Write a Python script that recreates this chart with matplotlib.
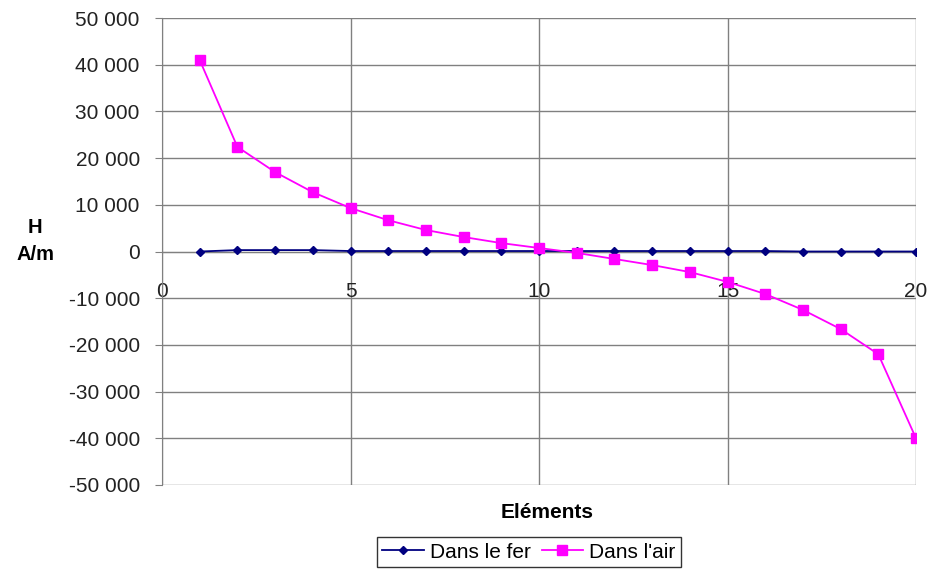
import matplotlib
matplotlib.use("Agg")
import matplotlib.pyplot as plt
from matplotlib.ticker import FuncFormatter

elements = list(range(1, 21))
h_fer = [0, 300, 300, 300, 100, 100, 100, 100, 100, 100,
         100, 100, 100, 100, 100, 100, 0, 0, 0, 0]
h_air = [41000, 22400, 17000, 12700, 9300, 6700, 4600, 3100, 1800, 750,
         -300, -1600, -2900, -4400, -6500, -9100, -12500, -16600, -22000, -40000]

plt.rcParams["font.family"] = ["Liberation Sans", "DejaVu Sans"]

fig = plt.figure(figsize=(9.3, 5.72), dpi=100)
ax = fig.add_axes([162 / 930, 1 - 485 / 572, (916 - 162) / 930, (485 - 18) / 572])

grid_c = "#808080"
ax.plot(elements, h_fer, color="#000080", lw=1.3, marker="D", ms=4.5,
        label="Dans le fer", zorder=3)
ax.plot(elements, h_air, color="#FF00FF", lw=1.3, marker="s", ms=6.5,
        label="Dans l'air", zorder=4)

ax.set_xlim(0, 20)
ax.set_ylim(-50000, 50000)
ax.set_xticks([0, 5, 10, 15, 20])
ax.set_yticks(range(-50000, 50001, 10000))
ax.yaxis.set_major_formatter(FuncFormatter(lambda v, p: f"{int(v):,}".replace(",", " ")))

ax.grid(True, color=grid_c, lw=1.0)
ax.get_xgridlines()[-1].set_color("#c0c0c0")
ax.set_axisbelow(True)
for s in ["top", "right"]:
    ax.spines[s].set_visible(False)
ax.spines["left"].set_color(grid_c)
ax.spines["bottom"].set_position(("data", 0))
ax.spines["bottom"].set_color(grid_c)

ax.tick_params(axis="y", length=5, color=grid_c, labelsize=15, labelcolor="#222222", pad=11)
ax.tick_params(axis="x", length=0, labelsize=15, labelcolor="#222222", pad=22)

fig.text(35 / 930, 1 - 241 / 572, "H\nA/m", ha="center", va="center", fontsize=14.5,
         fontweight="bold", linespacing=1.5)
fig.text(547 / 930, 1 - 512 / 572, "Eléments", ha="center", va="center",
         fontsize=15, fontweight="bold")

leg = fig.legend(loc="center", bbox_to_anchor=(529 / 930, 1 - 552 / 572), ncol=2,
                 fontsize=15, frameon=True, fancybox=False, edgecolor="black",
                 handlelength=2.0, columnspacing=0.5, handletextpad=0.3,
                 borderpad=0.25, borderaxespad=0)
leg.get_frame().set_linewidth(1.0)

fig.savefig("out.png", dpi=100)
